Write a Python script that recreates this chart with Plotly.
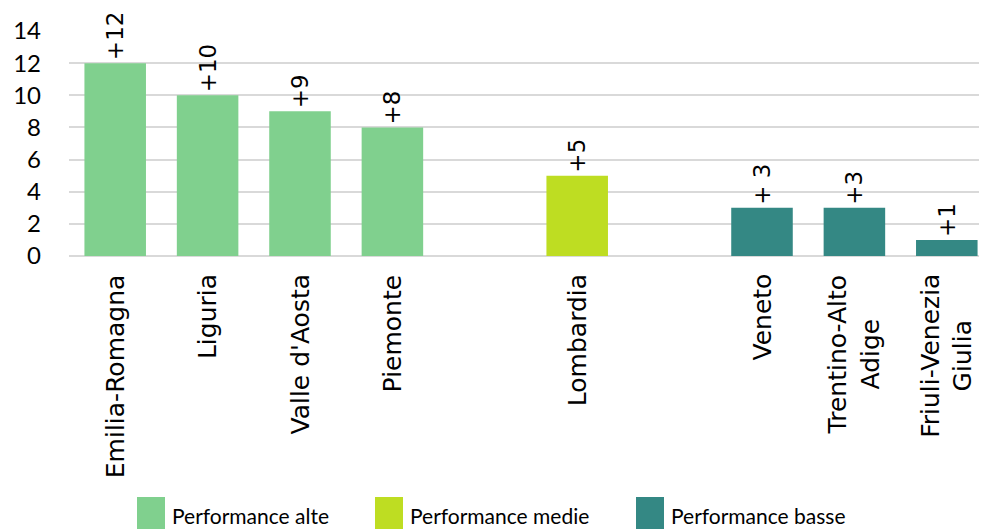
import plotly.graph_objects as go

# ----- Data ----- #
regions = [
    "Emilia-Romagna", "Liguria", "Valle d'Aosta", "Piemonte",
    "Lombardia",
    "Veneto", "Trentino-Alto Adige", "Friuli-Venezia Giulia",
]
values = [12, 10, 9, 8, 5, 3, 3, 1]
value_labels = ["+12", "+10", "+9", "+8", "+5", "+ 3", "+3", "+1"]
groups = ["alte", "alte", "alte", "alte", "medie", "basse", "basse", "basse"]

# category slots on the x axis (blank slots separate the groups)
slots = [
    "Emilia-Romagna", "Liguria", "Valle d'Aosta", "Piemonte", " ",
    "Lombardia", "  ",
    "Veneto", "Trentino-Alto Adige", "Friuli-Venezia Giulia",
]
tick_text = {
    "Trentino-Alto Adige": "Trentino-Alto<br>Adige",
    "Friuli-Venezia Giulia": "Friuli-Venezia<br>Giulia",
}

group_names = {
    "alte": "Performance alte",
    "medie": "Performance medie",
    "basse": "Performance basse",
}
group_colors = {"alte": "#80D08E", "medie": "#BEDD22", "basse": "#348884"}

FONT = "Lato"
FONT_ROT = "DejaVu Sans"

# the page puts the figure 8px in from the window corner
OFF = 8
W, H = 987 - OFF, 529 - OFF
L, R, T = 69 - OFF, 0, 31 - OFF
B = H - (256 - OFF)
SLOT_PX = 92.4  # width of one category slot; the last slot runs past the edge

fig = go.Figure()

for g in group_names:
    idx = [i for i, gg in enumerate(groups) if gg == g]
    fig.add_trace(
        go.Bar(
            x=[regions[i] for i in idx],
            y=[values[i] for i in idx],
            text=[value_labels[i] for i in idx],
            textposition="outside",
            textangle=-90,
            constraintext="none",
            cliponaxis=False,
            textfont=dict(family=FONT_ROT, size=23, color="#000000"),
            marker_color=group_colors[g],
            marker_line_width=0,
            name=group_names[g],
            showlegend=False,
        )
    )

# category labels as centred, rotated annotations
for r in regions:
    fig.add_annotation(
        x=r, y=0, xref="x", yref="y",
        text=tick_text.get(r, r),
        textangle=-90,
        xanchor="center", yanchor="top",
        yshift=-16,
        align="center",
        showarrow=False,
        font=dict(family=FONT_ROT, size=25, color="#000000"),
    )

# manual legend (large square keys), positions given in screen pixels
plot_w, plot_h = W - L - R, H - T - B


def px_x(px):
    return (px - OFF - L) / plot_w


def px_y(py):
    return (H - B - (py - OFF)) / plot_h


legend_x = [137, 375, 636]
for g, x0 in zip(group_names, legend_x):
    fig.add_shape(
        type="rect", xref="paper", yref="paper",
        x0=px_x(x0), x1=px_x(x0 + 28), y0=px_y(497), y1=px_y(530),
        fillcolor=group_colors[g], line_width=0,
    )
    fig.add_annotation(
        x=px_x(x0 + 33), y=px_y(515), xref="paper", yref="paper",
        text=group_names[g], xanchor="left", yanchor="middle",
        showarrow=False,
        font=dict(family=FONT, size=21, color="#000000"),
    )

fig.update_layout(
    width=W,
    height=H,
    margin=dict(l=L, r=R, t=T, b=B),
    plot_bgcolor="white",
    paper_bgcolor="white",
    barmode="relative",
    bargap=0.334,
    showlegend=False,
    font=dict(family=FONT, color="#000000"),
)
fig.update_xaxes(
    type="category",
    categoryorder="array",
    categoryarray=slots,
    range=[-0.5, -0.5 + plot_w / SLOT_PX],
    showticklabels=False,
    showgrid=False,
    showline=False,
)
fig.update_yaxes(
    range=[0, 14],
    dtick=2,
    showgrid=True,
    gridcolor="#D9D9D9",
    gridwidth=1.5,
    zeroline=True,
    zerolinecolor="#D9D9D9",
    zerolinewidth=1.5,
    ticklabelstandoff=27,
    tickfont=dict(family=FONT, size=24, color="#000000"),
)

fig.write_html("out.html")
